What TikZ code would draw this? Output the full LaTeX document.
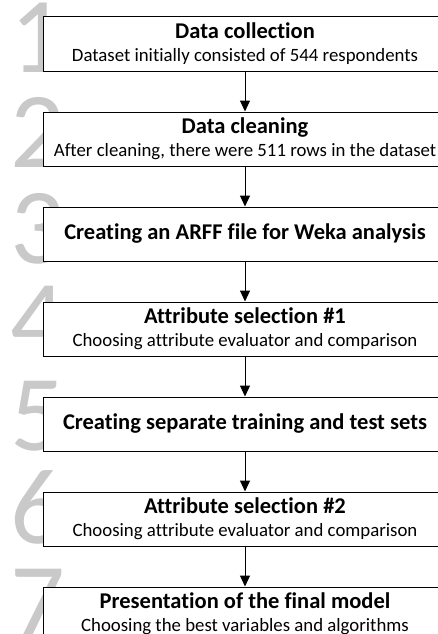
\documentclass[tikz,border=0pt]{standalone}
\usepackage{fontspec}
\setmainfont{Carlito}[Ligatures=NoCommon]
\usetikzlibrary{positioning,arrows.meta}

\tikzset{
  stepbox/.style={draw, line width=1pt, fill=white, minimum width=404pt,
    minimum height=54pt, inner sep=0pt, align=center,
    font=\fontsize{18.8}{21}\selectfont},
  steparrow/.style={line width=1pt, -{Triangle[width=10pt,length=11pt]}},
  bignum/.style={anchor=base west, inner sep=0pt, text=black!21,
    font=\fontsize{108}{108}\selectfont}
}
\newcommand{\steptitle}[1]{{\fontsize{22.5}{24}\selectfont\bfseries #1}}

\begin{document}
\begin{tikzpicture}[node distance=40pt]
\useasboundingbox (0,0) rectangle (437pt,-634pt);

% step numbers behind the boxes
\node[bignum] (n1) at (10pt,-73pt) {1};
\node[bignum] (n2) at (10pt,-167pt) {2};
\node[bignum] (n3) at (10pt,-263pt) {3};
\node[bignum] (n4) at (10pt,-355pt) {4};
\node[bignum] (n5) at (10pt,-450pt) {5};
\node[bignum] (n6) at (10pt,-543pt) {6};
\node[bignum] (n7) at (10pt,-638pt) {7};

% the steps
\node[stepbox] (collect) at (245pt,-44pt)
  {\steptitle{Data collection}\\[2pt] Dataset initially consisted of 544 respondents};
\node[stepbox, below=of collect] (clean)
  {\steptitle{Data cleaning}\\[2pt] After cleaning, there were 511 rows in the dataset};
\node[stepbox, below=of clean] (arff)
  {\steptitle{Creating an ARFF file for Weka analysis}};
\node[stepbox, below=of arff] (select1)
  {\steptitle{Attribute selection \#1}\\[2pt] Choosing attribute evaluator and comparison};
\node[stepbox, below=of select1] (split)
  {\steptitle{Creating separate training and test sets}};
\node[stepbox, below=of split] (select2)
  {\steptitle{Attribute selection \#2}\\[2pt] Choosing attribute evaluator and comparison};
\node[stepbox, below=of select2] (final)
  {\steptitle{Presentation of the final model}\\[2pt] Choosing the best variables and algorithms};

\draw[steparrow] (collect) -- (clean);
\draw[steparrow] (clean) -- (arff);
\draw[steparrow] (arff) -- (select1);
\draw[steparrow] (select1) -- (split);
\draw[steparrow] (split) -- (select2);
\draw[steparrow] (select2) -- (final);
\end{tikzpicture}
\end{document}
